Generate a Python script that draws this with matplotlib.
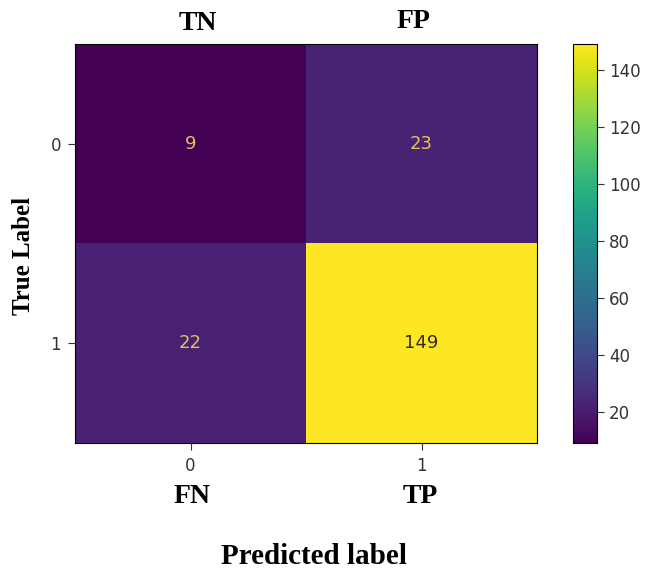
import numpy as np
import matplotlib
matplotlib.use("Agg")
import matplotlib.pyplot as plt

# ── DATA ────────────────────────────────────────────
classes = ["0", "1"]
cm = np.array([[9, 23],
               [22, 149]])
cell_tags_top = ["TN", "FP"]
cell_tags_bottom = ["FN", "TP"]
cbar_ticks = [20, 40, 60, 80, 100, 120, 140]

serif = ["Liberation Serif", "DejaVu Serif"]

fig = plt.figure(figsize=(6.5, 5.68), dpi=100)
ax = fig.add_axes([0.1154, 0.220, 0.7108, 0.7025])
cax = fig.add_axes([0.8815, 0.220, 0.0369, 0.7025])

im = ax.imshow(cm, cmap="viridis", aspect="auto", interpolation="nearest")

# cell counts, light text on dark cells
thresh = (cm.max() + cm.min()) / 2.0
for i in range(cm.shape[0]):
    for j in range(cm.shape[1]):
        col = "#3a2a18" if cm[i, j] > thresh else "#e3c25a"
        ax.text(j, i, str(cm[i, j]), ha="center", va="center", color=col, fontsize=13)

ax.set_xticks(range(len(classes)))
ax.set_xticklabels(classes, fontsize=12)
ax.set_yticks(range(len(classes)))
ax.set_yticklabels(classes, fontsize=12)
ax.tick_params(colors="#333333", labelcolor="#333333", length=5, pad=5)

# TN / FP above, FN / TP below
ax.text(0.03, -0.605, cell_tags_top[0], ha="center", va="center", family=serif,
        fontweight="bold", fontsize=20)
ax.text(0.967, -0.615, cell_tags_top[1], ha="center", va="center", family=serif,
        fontweight="bold", fontsize=20)
ax.text(0.006, 1.766, cell_tags_bottom[0], ha="center", va="center", family=serif,
        fontweight="bold", fontsize=20)
ax.text(0.994, 1.766, cell_tags_bottom[1], ha="center", va="center", family=serif,
        fontweight="bold", fontsize=20)

fig.text(24 / 650, 1 - 256 / 568, "True Label", rotation=90, ha="center", va="center",
         family=serif, fontweight="bold", fontsize=18)
fig.text(314 / 650, 1 - 556 / 568, "Predicted label", ha="center", va="center",
         family=serif, fontweight="bold", fontsize=21)

cb = fig.colorbar(im, cax=cax, ticks=cbar_ticks)
cb.ax.tick_params(labelsize=12, colors="#333333", labelcolor="#333333", length=5)

fig.savefig("out.png", dpi=100)
